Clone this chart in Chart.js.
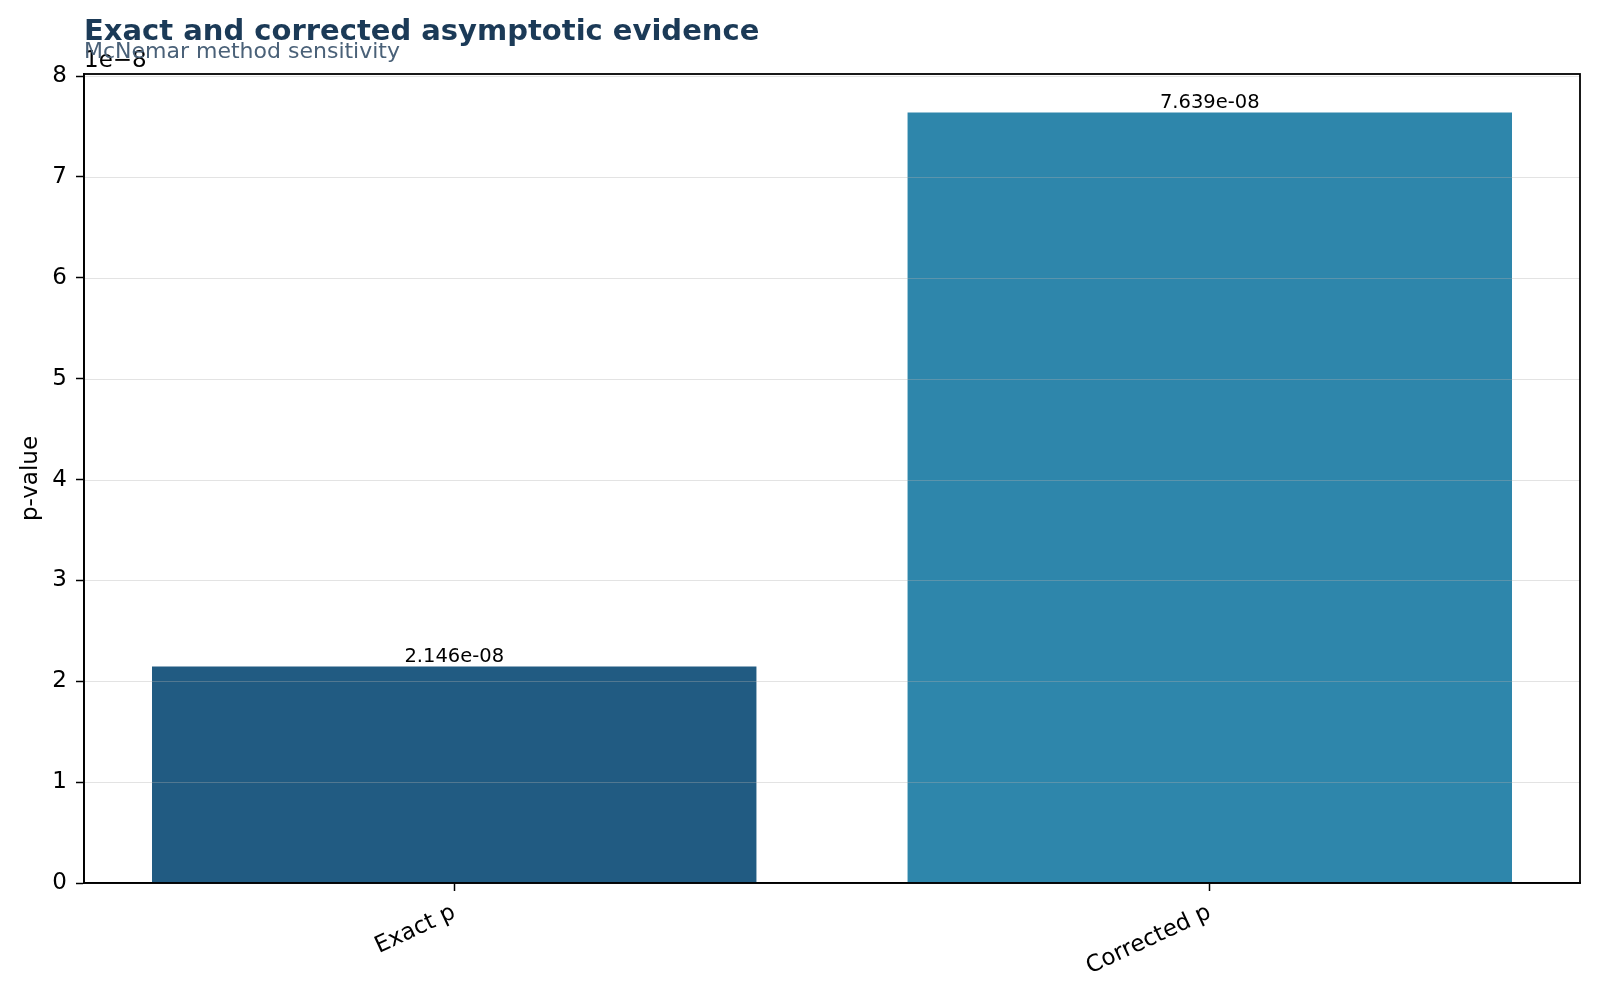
<!DOCTYPE html>
<html>
<head>
<meta charset="utf-8">
<script src="https://cdn.jsdelivr.net/npm/chart.js@4.4.1/dist/chart.umd.min.js"></script>
<style>
  html, body { margin: 0; padding: 0; background: #ffffff; }
  #wrap { width: 1600px; height: 1000px; }
</style>
</head>
<body>
<div id="wrap"><canvas id="c" width="1600" height="1000"></canvas></div>
<script>
// ---- data ----
const categories = ["Exact p", "Corrected p"];
const pValues = [2.146e-8, 7.639e-8];
const valueLabels = ["2.146e-08", "7.639e-08"];
const barColors = ["#215b82", "#2e86ab"];
const yTickValues = [0, 1, 2, 3, 4, 5, 6, 7, 8];
const offsetExponent = -8;
const chartTitle = "Exact and corrected asymptotic evidence";
const chartSubtitle = "McNemar method sensitivity";
const yAxisTitle = "p-value";

const scaleFactor = Math.pow(10, offsetExponent);
const scaled = pValues.map(v => v / scaleFactor);
const yMax = Math.max(...scaled) * 1.05;       // matplotlib-style 5% top margin
const barWidthFrac = 0.8;
const xMargin = (categories.length - 1 + barWidthFrac) * 0.05;
const xStart = -barWidthFrac / 2 - xMargin;
const xRange = (categories.length - 1 + barWidthFrac) + 2 * xMargin;
const FONT = "'DejaVu Sans', sans-serif";

const decorPlugin = {
  id: 'decor',
  afterDatasetsDraw(chart) {
    const ctx = chart.ctx;
    const a = chart.chartArea;
    const y = chart.scales.y;
    ctx.save();
    // grid over bars
    ctx.strokeStyle = 'rgba(176,176,176,0.35)';
    ctx.lineWidth = 1.2;
    yTickValues.forEach(t => {
      const py = Math.round(y.getPixelForValue(t)) + 0.5;
      ctx.beginPath();
      ctx.moveTo(a.left, py);
      ctx.lineTo(a.right, py);
      ctx.stroke();
    });
    // value labels
    const meta = chart.getDatasetMeta(0);
    ctx.fillStyle = '#000';
    ctx.font = "19.5px " + FONT;
    ctx.textAlign = 'center';
    ctx.textBaseline = 'bottom';
    meta.data.forEach((bar, i) => {
      ctx.fillText(valueLabels[i], bar.x, bar.y);
    });
    ctx.restore();
  },
  afterDraw(chart) {
    const ctx = chart.ctx;
    const a = chart.chartArea;
    ctx.save();
    // frame
    ctx.strokeStyle = '#000';
    ctx.lineWidth = 1.8;
    ctx.strokeRect(a.left, a.top, a.right - a.left, a.bottom - a.top);
    // offset text
    ctx.fillStyle = '#000';
    ctx.font = "23px " + FONT;
    ctx.textAlign = 'left';
    ctx.textBaseline = 'alphabetic';
    ctx.fillText("1e\u2212" + Math.abs(offsetExponent), a.left, 67);
    // title & subtitle
    ctx.fillStyle = '#1b3a57';
    ctx.font = "bold 29px " + FONT;
    ctx.fillText(chartTitle, a.left, 40);
    ctx.fillStyle = '#4a6178';
    ctx.font = "22px " + FONT;
    ctx.fillText(chartSubtitle, a.left, 58);
    ctx.restore();
  }
};

new Chart(document.getElementById('c'), {
  type: 'bar',
  data: {
    labels: categories,
    datasets: [{
      data: scaled,
      backgroundColor: barColors,
      borderWidth: 0,
      barPercentage: barWidthFrac,
      categoryPercentage: 1.0
    }]
  },
  options: {
    responsive: false,
    animation: false,
    devicePixelRatio: 1,
    layout: { padding: { top: 74, right: 20, left: 0, bottom: 0 } },
    plugins: {
      legend: { display: false },
      tooltip: { enabled: false },
      title: { display: false }
    },
    scales: {
      x: {
        offset: true,
        afterBuildTicks(s) { s._startValue = xStart; s._valueRange = xRange; },
        grid: { display: true, drawOnChartArea: false, offset: false, tickLength: 8, tickColor: '#000', tickWidth: 1.5 },
        border: { display: true, color: '#000', width: 1.8 },
        ticks: { color: '#000', font: { family: FONT, size: 23 }, maxRotation: 25, minRotation: 25, padding: 8 },
        afterFit(s) { s.height = 117; }
      },
      y: {
        min: 0, max: yMax,
        afterBuildTicks(s) { s.ticks = yTickValues.map(v => ({ value: v })); },
        grid: { display: true, drawOnChartArea: false, tickLength: 8, tickColor: '#000', tickWidth: 1.5 },
        border: { display: true, color: '#000', width: 1.8 },
        ticks: { color: '#000', font: { family: FONT, size: 23 }, padding: 9 },
        title: { display: true, text: yAxisTitle, color: '#000', font: { family: FONT, size: 23 }, padding: { top: 17, bottom: 0 } },
        afterFit(s) { s.width = 84; }
      }
    }
  },
  plugins: [decorPlugin]
});
</script>
</body>
</html>
